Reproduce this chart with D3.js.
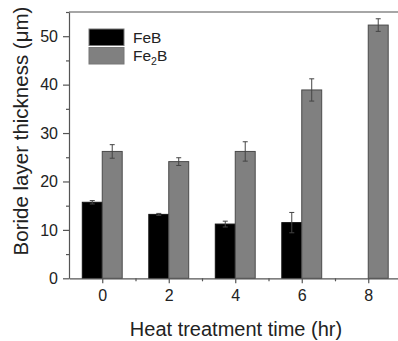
<!DOCTYPE html>
<html lang="en">
<head>
  <meta charset="UTF-8">
  <title>Boride layer thickness</title>
  <style>
    * { padding: 0; margin: 0; }
    body { background: #fff; }
    svg { display: block; font-family: "Liberation Sans", Arial, sans-serif; }
    .axis text { font-size: 16px; fill: #222; }
    .axis path, .axis line { stroke: #555; stroke-width: 1.2; }
  </style>
</head>
<body>
  <svg id="svg"></svg>
  <script src="https://cdnjs.cloudflare.com/ajax/libs/d3/7.8.5/d3.min.js"></script>
  <script>
    // values
    const times = [0, 2, 4, 6, 8]
    const feb = [15.7, 13.2, 11.2, 11.5, null]
    const febErr = [0.35, 0.2, 0.6, 2.1, null]
    const fe2b = [26.2, 24.1, 26.2, 38.9, 52.3]
    const fe2bErr = [1.4, 0.8, 2.0, 2.3, 1.3]
    const yTicks = [0, 10, 20, 30, 40, 50]
    const yMinor = [5, 15, 25, 35, 45, 55]
    const xMinor = [1, 3, 5, 7]

    const width = 398, height = 341
    const margin = { top: 12, left: 69, bottom: 278.3 }

    const svg = d3.select('#svg')
      .attr('width', width)
      .attr('height', height)

    const x = d3.scaleLinear().domain([-1, 9]).range([margin.left, margin.left + 10 * 33.25])
    const y = d3.scaleLinear().domain([0, 55]).range([margin.bottom, margin.top])
    const barW = x(0.6) - x(0)

    // top frame line
    svg.append('line')
      .attr('x1', x(-1)).attr('x2', x(9))
      .attr('y1', y(55)).attr('y2', y(55))
      .attr('stroke', '#888').attr('stroke-width', 1.5)

    const series = [
      { name: 'FeB', values: feb, err: febErr, fill: '#000', stroke: '#111', offset: -1 },
      { name: 'Fe2B', values: fe2b, err: fe2bErr, fill: '#808080', stroke: '#4a4a4a', offset: 0 }
    ]

    series.forEach(s => {
      const rows = times.map((t, i) => ({ t, v: s.values[i], e: s.err[i] })).filter(d => d.v != null)
      const g = svg.append('g')
      g.selectAll('rect')
        .data(rows)
        .join('rect')
        .attr('x', d => x(d.t) + s.offset * barW)
        .attr('y', d => y(d.v))
        .attr('width', barW)
        .attr('height', d => y(0) - y(d.v))
        .attr('fill', s.fill)
        .attr('stroke', s.stroke)
        .attr('stroke-width', 1)

      const eb = g.selectAll('g.err')
        .data(rows)
        .join('g')
        .attr('class', 'err')
        .attr('stroke', '#444')
        .attr('stroke-width', 1)
      eb.append('line')
        .attr('x1', d => x(d.t) + (s.offset + 0.5) * barW)
        .attr('x2', d => x(d.t) + (s.offset + 0.5) * barW)
        .attr('y1', d => y(d.v - d.e))
        .attr('y2', d => y(d.v + d.e))
      ;[1, -1].forEach(sign => {
        eb.append('line')
          .attr('x1', d => x(d.t) + (s.offset + 0.5) * barW - 2.5)
          .attr('x2', d => x(d.t) + (s.offset + 0.5) * barW + 2.5)
          .attr('y1', d => y(d.v + sign * d.e))
          .attr('y2', d => y(d.v + sign * d.e))
      })
    })

    // axes
    svg.append('g')
      .attr('class', 'axis')
      .attr('transform', `translate(${margin.left},0)`)
      .call(d3.axisLeft(y).tickValues(yTicks).tickSize(6).tickSizeOuter(0).tickPadding(5))

    svg.append('g')
      .attr('class', 'axis')
      .attr('transform', `translate(${margin.left},0)`)
      .call(d3.axisLeft(y).tickValues(yMinor).tickSize(3).tickFormat(''))
      .call(g => g.select('.domain').remove())

    svg.append('g')
      .attr('class', 'axis')
      .attr('transform', `translate(0,${margin.bottom})`)
      .call(d3.axisBottom(x).tickValues(times).tickSize(5).tickSizeOuter(0).tickPadding(6))

    svg.append('g')
      .attr('class', 'axis')
      .attr('transform', `translate(0,${margin.bottom})`)
      .call(d3.axisBottom(x).tickValues(xMinor).tickSize(3).tickFormat(''))
      .call(g => g.select('.domain').remove())

    // axis titles
    svg.append('text')
      .attr('x', 236).attr('y', 336)
      .attr('text-anchor', 'middle')
      .attr('font-size', 20)
      .attr('fill', '#222')
      .text('Heat treatment time (hr)')

    svg.append('text')
      .attr('transform', 'translate(28,131) rotate(-90)')
      .attr('text-anchor', 'middle')
      .attr('font-size', 20.5)
      .attr('fill', '#222')
      .text('Boride layer thickness (\u03bcm)')

    // legend
    const legend = svg.append('g').attr('transform', 'translate(89,29)')
    series.forEach((s, i) => {
      legend.append('rect')
        .attr('x', 0).attr('y', i * 18.5)
        .attr('width', 35).attr('height', 16.5)
        .attr('fill', s.fill)
        .attr('stroke', '#777').attr('stroke-width', 1)
      const t = legend.append('text')
        .attr('x', 44).attr('y', i * 18.5 + 13.5)
        .attr('font-size', 15.5)
        .attr('fill', '#222')
      if (s.name === 'Fe2B') {
        t.append('tspan').text('Fe')
        t.append('tspan').attr('font-size', 10.5).attr('dy', 4).text('2')
        t.append('tspan').attr('dy', -4).text('B')
      } else {
        t.text(s.name)
      }
    })
  </script>
</body>
</html>
